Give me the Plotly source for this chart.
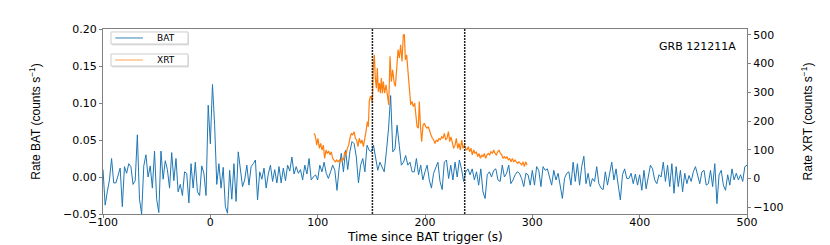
import plotly.graph_objects as go

# ---------------- data ----------------
# BAT light curve: 2 s bins starting at t = -100 s
bat_start = -100
bat_step = 2
bat_rate = [
    0.010, -0.038, -0.020, -0.004, 0.025, -0.008, -0.008, 0.003, 0.012, -0.040,
    0.014, 0.005, 0.018, 0.014, -0.010, -0.005, 0.057, -0.030, -0.050, 0.015,
    0.030, 0.000, 0.015, -0.015, 0.035, -0.030, -0.048, 0.035, -0.003, 0.022,
    0.010, -0.015, 0.033, -0.005, 0.025, -0.020, -0.010, -0.025, 0.007, 0.005,
    -0.035, 0.018, -0.015, 0.020, -0.020, -0.025, 0.015, 0.005, -0.025, 0.097,
    0.045, 0.125, 0.070, -0.010, 0.018, -0.015, 0.013, -0.040, -0.049, 0.009,
    -0.030, 0.018, -0.033, 0.034, 0.009, -0.013, -0.004, 0.016, -0.011, 0.014,
    0.018, 0.023, -0.031, 0.007, -0.003, 0.012, -0.015, 0.004, 0.016, -0.006,
    0.010, -0.008, 0.014, -0.008, 0.012, -0.005, 0.016, 0.008, 0.027, 0.004,
    0.014, 0.005, 0.010, -0.004, 0.016, 0.004, 0.025, -0.004, 0.000, 0.003,
    -0.004, 0.016, 0.007, 0.020, 0.005, -0.002, 0.007, 0.016, 0.009, -0.018,
    0.012, 0.032, 0.007, 0.036, 0.010, 0.034, 0.048, 0.045, 0.027, -0.008,
    0.016, 0.025, 0.007, 0.043, 0.036, 0.034, 0.043, 0.023, 0.009, 0.020,
    0.014, 0.007, 0.034, 0.065, 0.110, 0.034, 0.038, 0.070, 0.043, 0.016,
    0.020, 0.029, 0.016, 0.020, 0.007, 0.007, 0.025, 0.003, 0.016, -0.004,
    0.007, 0.016, -0.004, -0.015, 0.005, 0.014, 0.020, -0.006, -0.017, 0.020,
    0.023, -0.002, 0.016, -0.004, 0.020, 0.000, 0.023, 0.011, -0.006, 0.007,
    0.011, 0.003, 0.011, -0.004, 0.007, -0.011, 0.011, -0.020, -0.029, 0.003,
    0.007, 0.000, 0.009, 0.011, -0.004, -0.006, 0.016, 0.000, 0.005, 0.016,
    -0.009, -0.004, 0.003, 0.007, 0.005, -0.002, -0.013, 0.005, 0.003, -0.011,
    0.009, -0.011, 0.014, 0.009, -0.013, 0.014, 0.009, 0.011, 0.000, -0.011,
    0.009, -0.004, 0.005, -0.013, -0.029, -0.002, 0.005, 0.007, -0.011, 0.020,
    -0.006, 0.018, -0.011, 0.014, 0.028, -0.009, 0.005, -0.013, -0.002, -0.006,
    0.014, -0.009, -0.015, -0.017, 0.007, -0.011, 0.007, 0.020, -0.004, 0.011,
    -0.011, -0.031, 0.003, 0.011, -0.002, -0.002, 0.005, -0.009, 0.004, -0.011,
    0.003, -0.018, 0.009, -0.016, 0.000, 0.016, 0.011, -0.004, -0.009, 0.003,
    0.000, 0.020, -0.006, 0.016, -0.013, 0.018, -0.022, 0.014, -0.013, 0.009,
    -0.020, 0.005, -0.009, 0.002, -0.006, 0.007, 0.014, 0.003, -0.009, 0.007,
    0.009, -0.011, -0.009, 0.009, -0.013, 0.018, -0.036, 0.003, 0.009, -0.011,
    -0.018, 0.003, -0.011, 0.011, -0.004, 0.005, -0.004, 0.003, -0.006, 0.014,
    0.016,
]
bat_time = [bat_start + bat_step * i for i in range(len(bat_rate))]

# XRT light curve (counts/s, right axis)
xrt_time = [
    96.6, 97.5, 98.5, 99.1, 100.3, 101.6, 102.8, 104.0, 105.3, 106.5,
    107.8, 109.0, 110.3, 111.5, 112.7, 114.0, 115.2, 116.5, 117.7, 119.0,
    120.2, 121.4, 122.7, 124.0, 125.2, 126.4, 127.6, 128.9, 130.1, 131.4,
    132.6, 133.9, 135.1, 136.3, 137.6, 138.8, 140.1, 141.3, 142.6, 143.8,
    145.0, 146.3, 147.2, 148.1, 149.1, 150.0, 150.9, 151.9, 152.8, 153.7,
    154.7, 155.6, 156.5, 157.5, 158.4, 159.3, 160.3, 161.2, 162.4, 163.7,
    164.9, 166.2, 167.4, 168.6, 169.9, 171.1, 172.4, 173.6, 174.9, 176.1,
    177.3, 178.6, 179.8, 180.8, 181.7, 182.9, 184.2, 185.4, 186.7, 187.9,
    189.1, 190.4,
    191.6, 192.6, 193.8, 194.7, 195.7, 196.9, 198.2, 199.4, 200.6, 201.9,
    203.1, 204.4, 205.6, 206.9, 208.1, 209.3, 210.6, 211.8, 213.1, 214.3,
    215.5, 216.8, 218.0, 219.3, 220.5, 221.8, 223.0, 224.2, 225.5, 226.7,
    228.0, 229.2, 230.5, 231.7, 232.9, 234.2, 235.4, 236.7, 237.9, 239.2,
    240.4, 241.6, 242.9, 244.1, 245.4, 246.6, 247.8, 249.1, 250.3, 251.6,
    252.8, 254.0, 255.3, 256.5, 257.8, 259.0, 260.3, 261.5, 262.8, 264.0,
    265.2, 266.5, 267.7, 269.0, 270.2, 271.5, 272.7, 273.9, 275.2, 276.4,
    277.7, 278.9, 280.1, 281.4, 282.6, 283.9, 285.1, 286.4, 287.6, 288.8,
    290.1, 291.3, 292.6, 293.8, 295.0,
]
xrt_rate = [
    157, 151, 134, 116, 140, 105, 122, 99, 116, 70,
    99, 87, 95, 82, 93, 70, 64, 58, 64, 58,
    64, 58, 70, 64, 93, 82, 105, 116, 140, 157,
    151, 163, 140, 134, 111, 140, 122, 134, 111, 134,
    163, 198, 180, 268, 285, 285, 262, 395, 430, 349,
    314, 384, 302, 332, 297, 349, 297, 337, 297, 326,
    285, 256, 425, 337, 378, 337, 320, 384, 448, 419,
    465, 407, 500, 500, 413, 430, 372, 302, 256, 268,
    250, 262,
    221, 180, 175, 268, 186, 128, 186, 192, 180, 175,
    180, 163, 151, 140, 134, 122, 134, 128, 140, 134,
    145, 140, 157, 134, 140, 163, 128, 145, 122, 105,
    116, 140, 105, 122, 99, 134, 105, 116, 105, 99,
    111, 93, 105, 82, 99, 87, 93, 76, 87, 70,
    82, 76, 87, 70, 82, 87, 82, 93, 87, 99,
    87, 82, 93, 99, 87, 82, 70, 76, 70, 76,
    64, 70, 58, 70, 58, 64, 58, 53, 58, 53,
    47, 58, 41, 58, 47,
]
assert len(xrt_time) == len(xrt_rate)

series_names = ["BAT", "XRT"]
marker_times = [151, 237]          # dotted vertical lines
x_ticks = [-100, 0, 100, 200, 300, 400, 500]
bat_ticks = [-0.05, 0.00, 0.05, 0.10, 0.15, 0.20]
xrt_ticks = [-100, 0, 100, 200, 300, 400, 500]

# ---------------- figure ----------------
BLUE = "#1f77b4"
ORANGE = "#ff7f0e"
FRAME = "#808080"
TICKFONT = dict(family="DejaVu Sans", size=11, color="black")
TITLEFONT = dict(family="Liberation Sans, Arial, sans-serif", size=12, color="black")

fig = go.Figure()
fig.add_trace(go.Scatter(x=bat_time, y=bat_rate, mode="lines", name=series_names[0],
                         line=dict(color=BLUE, width=1)))
fig.add_trace(go.Scatter(x=xrt_time, y=xrt_rate, mode="lines", name=series_names[1],
                         line=dict(color=ORANGE, width=1.2), yaxis="y2"))

for t in marker_times:
    fig.add_shape(type="line", xref="x", yref="paper", x0=t, x1=t, y0=0, y1=1,
                  line=dict(color="#222222", width=1.5, dash="2px,1px"), layer="above")

# two separate legend boxes (as in the reference), drawn in paper coordinates
legend_boxes = [(0.919, 0.984), (0.800, 0.865)]
legend_colors = ["rgba(31,119,180,0.75)", "rgba(255,127,14,0.6)"]
for name, (y0, y1), col in zip(series_names, legend_boxes, legend_colors):
    fig.add_shape(type="rect", xref="paper", yref="paper", x0=0.0140, x1=0.1335,
                  y0=y0 - 0.008, y1=y1 - 0.008, line=dict(width=0),
                  fillcolor="rgba(0,0,0,0.12)", layer="above")
    fig.add_shape(type="rect", xref="paper", yref="paper", x0=0.0124, x1=0.132,
                  y0=y0, y1=y1, line=dict(color="#cccccc", width=1),
                  fillcolor="white", layer="above")
    ym = (y0 + y1) / 2
    fig.add_shape(type="line", xref="paper", yref="paper", x0=0.019, x1=0.062,
                  y0=ym, y1=ym, line=dict(color=col, width=1.2), layer="above")
    fig.add_annotation(text=name, xref="paper", yref="paper", x=0.098, y=ym,
                       xanchor="center", yanchor="middle", showarrow=False,
                       font=dict(family="DejaVu Sans", size=9, color="black"))

fig.add_annotation(text="GRB 121211A", xref="paper", yref="paper", x=0.986, y=0.905,
                   xanchor="right", yanchor="middle", showarrow=False,
                   font=dict(family="DejaVu Sans", size=11, color="black"))

# x-axis title placed as in the reference (close under the tick labels)
fig.add_annotation(text="Time since BAT trigger (s)", xref="paper", yref="paper",
                   x=0.5, y=-0.122, xanchor="center", yanchor="middle", showarrow=False,
                   font=dict(family="DejaVu Sans", size=12, color="black"))

# the page is shown with an 8 px body margin, so the figure is offset by 8 px
fig.update_layout(
    width=830, height=245,
    margin=dict(l=95, r=91, t=21, b=39, autoexpand=False),
    paper_bgcolor="white", plot_bgcolor="white",
    font=TICKFONT,
    showlegend=False,
    xaxis=dict(range=[-100, 500], tickvals=x_ticks, ticks="outside", ticklen=3,
               tickcolor=FRAME, showline=True, linecolor=FRAME, linewidth=1, mirror=True,
               showgrid=False, zeroline=False, tickfont=TICKFONT, automargin=False,
               ticklabelstandoff=-5),
    yaxis=dict(range=[-0.05, 0.20], tickvals=bat_ticks, tickformat=".2f", ticks="outside",
               ticklen=3, tickcolor=FRAME, showline=True, linecolor=FRAME, linewidth=1,
               showgrid=False, zeroline=False, tickfont=TICKFONT, automargin=False,
               title=dict(text="Rate BAT (counts s<sup>−1</sup>)", standoff=19, font=TITLEFONT)),
    yaxis2=dict(range=[-123.5, 520], tickvals=xrt_ticks, overlaying="y", side="right",
                ticks="outside", ticklen=3, tickcolor=FRAME, showline=True, linecolor=FRAME,
                linewidth=1, showgrid=False, zeroline=False, tickfont=TICKFONT, automargin=False,
                title=dict(text="Rate XRT (counts s<sup>−1</sup>)", standoff=21, font=TITLEFONT)),
)

fig.write_html("out.html")
